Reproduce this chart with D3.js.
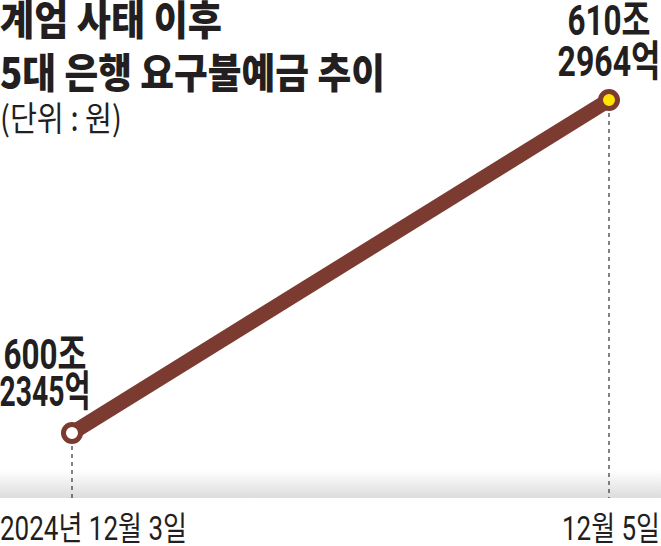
<!DOCTYPE html>
<html><head><meta charset="utf-8">
<script src="https://cdn.jsdelivr.net/npm/d3@7"></script>
<style>html,body{margin:0;padding:0;background:#fff;}svg{display:block;}</style>
</head><body>
<script>
const titleLines = ["계엄 사태 이후", "5대 은행 요구불예금 추이"];
const unitLabel = "(단위 : 원)";
const dates = ["2024년 12월 3일", "12월 5일"];
const valuesJo = [600.2345, 610.2964];        // 조 원
const valueLabels = [["600조", "2345억"], ["610조", "2964억"]];

const W = 661, H = 546;
const svg = d3.select("body").append("svg").attr("width", W).attr("height", H);
const numFont = "Roboto,'Noto Sans CJK KR',sans-serif";
const korFont = "'Noto Sans CJK KR',sans-serif";

const x = d3.scalePoint().domain(dates).range([72, 609]);
const y = d3.scaleLinear().domain(d3.extent(valuesJo)).range([433, 100]);
const data = dates.map((d, i) => ({d, v: valuesJo[i], lab: valueLabels[i]}));

// bottom gradient band
const defs = svg.append("defs");
const g = defs.append("linearGradient").attr("id", "band").attr("x1", 0).attr("x2", 0).attr("y1", 0).attr("y2", 1);
g.append("stop").attr("offset", "0%").attr("stop-color", "#ffffff");
g.append("stop").attr("offset", "100%").attr("stop-color", "#dcdcdc");
svg.append("rect").attr("x", 0).attr("y", 470).attr("width", W).attr("height", 28).attr("fill", "url(#band)");

// dashed guides
svg.selectAll("line.guide").data(data).join("line").attr("class", "guide")
  .attr("x1", d => x(d.d)).attr("x2", d => x(d.d))
  .attr("y1", d => y(d.v) + 13).attr("y2", 498)
  .attr("stroke", "#333").attr("stroke-width", 1.2).attr("stroke-dasharray", "4,4");

// line
svg.append("path").datum(data)
  .attr("d", d3.line().x(d => x(d.d)).y(d => y(d.v)))
  .attr("fill", "none").attr("stroke", "#7b3b30").attr("stroke-width", 15);

// points
svg.selectAll("circle.pt").data(data).join("circle").attr("class", "pt")
  .attr("cx", d => x(d.d)).attr("cy", d => y(d.v)).attr("r", 8.5)
  .attr("fill", (d, i) => i === 0 ? "#ffffff" : "#ffe400")
  .attr("stroke", "#7b3b30").attr("stroke-width", 5);

// title
const tl = [[35, 222], [88, 385]];
titleLines.forEach((t, i) => {
  svg.append("text").attr("x", 0).attr("y", tl[i][0]).text(t)
    .attr("font-family", korFont).attr("font-weight", 900).attr("font-size", 41)
    .attr("fill", "#231f20").attr("textLength", tl[i][1]).attr("lengthAdjust", "spacingAndGlyphs");
});
svg.append("text").attr("x", 0).attr("y", 131).text(unitLabel)
  .attr("font-family", korFont).attr("font-weight", 400).attr("font-size", 34)
  .attr("fill", "#231f20").attr("textLength", 122).attr("lengthAdjust", "spacingAndGlyphs");

// value labels
const labPos = [{cx: 45, ys: [369, 406], w: [83, 91]}, {cx: 609, ys: [35, 76], w: [83, 103]}];
data.forEach((d, i) => {
  d.lab.forEach((t, j) => {
    svg.append("text").attr("x", labPos[i].cx).attr("y", labPos[i].ys[j]).text(t)
      .attr("text-anchor", "middle")
      .attr("font-family", numFont).attr("font-weight", 700).attr("font-size", 42)
      .attr("fill", "#231f20").attr("textLength", labPos[i].w[j]).attr("lengthAdjust", "spacingAndGlyphs");
  });
});

// x labels
const xl = [{x: 0, a: "start", w: 187}, {x: 660, a: "end", w: 98}];
dates.forEach((t, i) => {
  svg.append("text").attr("x", xl[i].x).attr("y", 540).text(t)
    .attr("text-anchor", xl[i].a)
    .attr("font-family", numFont).attr("font-weight", 400).attr("font-size", 33)
    .attr("fill", "#231f20").attr("textLength", xl[i].w).attr("lengthAdjust", "spacingAndGlyphs");
});
</script>
</body></html>
